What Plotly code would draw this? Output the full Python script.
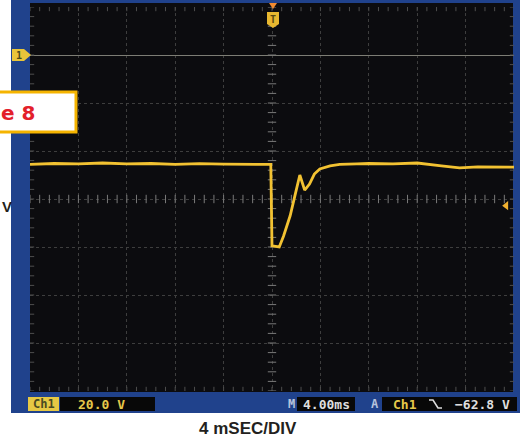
import numpy as np
import plotly.graph_objects as go

# ---- Channel 1 capture (time in ms, amplitude in volts) ----
time_ms = [-20, -18, -16, -14, -12, -10, -8, -6, -4, -2, -0.1,
           0.0, 0.6, 0.95, 1.5, 1.9, 2.3, 2.7, 3.1, 3.5, 3.95, 4.8, 5.6,
           7, 8, 10, 12, 14, 15.5, 17, 20]
volts = [-45.6, -45.2, -45.4, -45.0, -45.4, -45.2, -45.6, -45.3, -45.5, -45.4, -45.6,
         -79.5, -80.0, -75.5, -67.0, -58.5, -50.0, -56.3, -53.8, -49.6, -47.5, -46.2, -45.6,
         -45.4, -45.2, -45.4, -45.0, -46.2, -47.0, -46.6, -46.7]

trigger_level_v = -62.8
volts_per_div = 20.0
ms_per_div = 4.0

# screen settings: 10 x 8 divisions, ground one division below the top
x_range = [-5 * ms_per_div, 5 * ms_per_div]
y_range = [-7 * volts_per_div, 1 * volts_per_div]

# plot-area pixel geometry
W_IMG, H_IMG = 520, 438
L, R, T, B = 30, 514, 7, 391
W, H = R - L, B - T


def px(x):
    return (x - L) / W


def py(y):
    return (B - y) / H


BLUE = "#20428c"
SCREEN = "#0c0c0f"
TRACE = "#f2c232"
GRID = "#3e3e3e"
TICK = "#7a7a7a"
EDGE_TICK = "#4e4e4e"

fig = go.Figure()

# graticule tick marks along centre lines and screen edges (1/5 division)
minor_x = np.arange(x_range[0], x_range[1] + 1e-9, ms_per_div / 5)
minor_y = np.arange(y_range[0], y_range[1] + 1e-9, volts_per_div / 5)
y_center = (y_range[0] + y_range[1]) / 2
for yy, col in [(y_center, TICK), (y_range[0], EDGE_TICK), (y_range[1], EDGE_TICK)]:
    fig.add_trace(go.Scatter(x=minor_x, y=[yy] * len(minor_x), mode="markers",
                             marker=dict(symbol="line-ns", size=6,
                                         line=dict(color=col, width=1)),
                             hoverinfo="skip", showlegend=False))
for xx, col in [(0, TICK), (x_range[0], EDGE_TICK), (x_range[1], EDGE_TICK)]:
    fig.add_trace(go.Scatter(x=[xx] * len(minor_y), y=minor_y, mode="markers",
                             marker=dict(symbol="line-ew", size=6,
                                         line=dict(color=col, width=1)),
                             hoverinfo="skip", showlegend=False))

# the captured waveform
fig.add_trace(go.Scatter(x=time_ms, y=volts, mode="lines",
                         line=dict(color=TRACE, width=2.8, shape="linear"),
                         hoverinfo="skip", showlegend=False))

# trigger level indicator on the right edge
fig.add_trace(go.Scatter(x=[x_range[1] - 0.65], y=[trigger_level_v], mode="markers",
                         marker=dict(symbol="triangle-left", size=8, color="#f0b030"),
                         hoverinfo="skip", showlegend=False, cliponaxis=False))

shapes = []
# instrument bezel and screen
shapes.append(dict(type="rect", xref="paper", yref="paper", layer="below",
                   x0=px(11), x1=px(521), y0=py(413), y1=py(-1),
                   fillcolor=BLUE, line=dict(width=0)))
shapes.append(dict(type="rect", xref="paper", yref="paper", layer="below",
                   x0=px(30), x1=px(513), y0=py(392), y1=py(3),
                   fillcolor=SCREEN, line=dict(width=0)))


def path(points, close=True):
    s = "M " + " L ".join(f"{px(a):.5f},{py(b):.5f}" for a, b in points)
    return s + (" Z" if close else "")


# ground marker for channel 1
shapes.append(dict(type="path", xref="paper", yref="paper",
                   path=path([(12, 49), (24, 49), (31, 55), (24, 61), (12, 61)]),
                   fillcolor="#e9c53a", line=dict(width=0)))
# trigger position marker
shapes.append(dict(type="path", xref="paper", yref="paper",
                   path=path([(267, 12), (279, 12), (279, 24), (273, 28), (267, 24)]),
                   fillcolor="#e8b830", line=dict(width=0)))
shapes.append(dict(type="path", xref="paper", yref="paper",
                   path=path([(269, 3), (277, 3), (273, 9)]),
                   fillcolor="#f08a30", line=dict(width=0)))

# status bar readout boxes
shapes.append(dict(type="rect", xref="paper", yref="paper",
                   x0=px(28), x1=px(59), y0=py(411), y1=py(397),
                   fillcolor="#e6c844", line=dict(width=0)))
for a, b in [(60, 155), (297, 355), (382, 517)]:
    shapes.append(dict(type="rect", xref="paper", yref="paper",
                       x0=px(a), x1=px(b), y0=py(411), y1=py(397),
                       fillcolor="#080808", line=dict(width=0)))
# falling-edge slope symbol
shapes.append(dict(type="path", xref="paper", yref="paper",
                   path=path([(429, 400), (433, 400), (438, 408), (442, 408)], close=False),
                   line=dict(color="#dcdcdc", width=1.6)))

# figure label box
shapes.append(dict(type="rect", xref="paper", yref="paper",
                   x0=px(-6), x1=px(76), y0=py(132), y1=py(92),
                   fillcolor="white", line=dict(color="#f5b400", width=3)))

MONO = "DejaVu Sans Mono"
ann = []


def text(x, y, s, color, size, family=MONO, xanchor="center"):
    ann.append(dict(x=px(x), y=py(y), xref="paper", yref="paper", text=s,
                    showarrow=False, xanchor=xanchor, yanchor="middle",
                    font=dict(family=family, size=size, color=color)))


text(19, 55.5, "<b>1</b>", "#4a4a1a", 10)
text(273, 19, "<b>T</b>", "#5a4a10", 10)
text(43.5, 404, "<b>Ch1</b>", "#4a4a22", 12)
text(101, 404, f"<b>{volts_per_div:.1f} V</b>", "#e6c84a", 13)
text(291, 404, "<b>M</b>", "#b8c4dc", 12)
text(326, 404, f"<b>{ms_per_div:.2f}ms</b>", "#dedede", 13)
text(375, 404, "<b>A</b>", "#b8c4dc", 12)
text(405, 404, "<b>Ch1</b>", "#e6c84a", 13)
text(482, 404, f"<b>\u2212{abs(trigger_level_v):.1f} V</b>", "#dedede", 13)

text(248, 428, "<b>4 mSEC/DIV</b>", "#231f20", 17, family="Liberation Sans")
text(0, 206, "<b>V</b>", "#231f20", 15, family="Liberation Sans", xanchor="left")
text(37, 113, "<b>e 8</b>", "#e3202a", 20, family="DejaVu Sans", xanchor="right")

fig.update_layout(
    width=W_IMG, height=H_IMG,
    margin=dict(l=L, r=W_IMG - R, t=T, b=H_IMG - B, pad=0),
    paper_bgcolor="white",
    plot_bgcolor="rgba(0,0,0,0)",
    shapes=shapes,
    annotations=ann,
    xaxis=dict(range=x_range, dtick=ms_per_div, tick0=0, showgrid=True,
               gridcolor=GRID, griddash="dot", gridwidth=1,
               zeroline=False, showticklabels=False, ticks="", showline=False,
               fixedrange=True),
    yaxis=dict(range=y_range, dtick=volts_per_div, tick0=0, showgrid=True,
               gridcolor=GRID, griddash="dot", gridwidth=1,
               zeroline=True, zerolinecolor="#7d7d75", zerolinewidth=1,
               showticklabels=False, ticks="", showline=False, fixedrange=True),
    showlegend=False,
)

fig.write_html("out.html", config={"displayModeBar": False})
